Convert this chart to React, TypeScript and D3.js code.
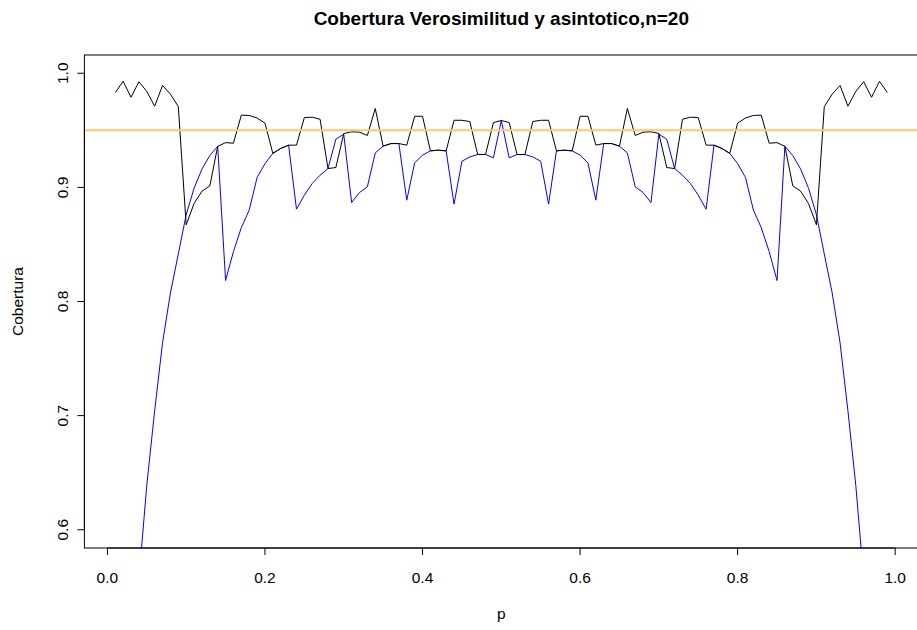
import React from "react";
import * as d3 from "d3";

// Grid of success probabilities p
const pValues = [
  0.01, 0.02, 0.03, 0.04, 0.05, 0.06, 0.07, 0.08, 0.09, 0.1,
  0.11, 0.12, 0.13, 0.14, 0.15, 0.16, 0.17, 0.18, 0.19, 0.2,
  0.21, 0.22, 0.23, 0.24, 0.25, 0.26, 0.27, 0.28, 0.29, 0.3,
  0.31, 0.32, 0.33, 0.34, 0.35, 0.36, 0.37, 0.38, 0.39, 0.4,
  0.41, 0.42, 0.43, 0.44, 0.45, 0.46, 0.47, 0.48, 0.49, 0.5,
  0.51, 0.52, 0.53, 0.54, 0.55, 0.56, 0.57, 0.58, 0.59, 0.6,
  0.61, 0.62, 0.63, 0.64, 0.65, 0.66, 0.67, 0.68, 0.69, 0.7,
  0.71, 0.72, 0.73, 0.74, 0.75, 0.76, 0.77, 0.78, 0.79, 0.8,
  0.81, 0.82, 0.83, 0.84, 0.85, 0.86, 0.87, 0.88, 0.89, 0.9,
  0.91, 0.92, 0.93, 0.94, 0.95, 0.96, 0.97, 0.98, 0.99,
];

// Coverage of the likelihood-ratio interval
const coverageLikelihood = [
  0.9831, 0.9929, 0.979, 0.9926, 0.9841, 0.9711, 0.9893, 0.9817, 0.9708, 0.8672,
  0.8858, 0.8967, 0.9013, 0.936, 0.9392, 0.9387, 0.9633, 0.963, 0.9608, 0.9563,
  0.9298, 0.9341, 0.937, 0.937, 0.9612, 0.9615, 0.9597, 0.9165, 0.9174, 0.9472,
  0.9487, 0.9484, 0.9455, 0.9691, 0.9361, 0.9384, 0.9384, 0.937, 0.9623, 0.9623,
  0.932, 0.9326, 0.932, 0.9588, 0.9588, 0.9577, 0.9288, 0.9288, 0.9568, 0.9586,
  0.9568, 0.9288, 0.9288, 0.9577, 0.9588, 0.9588, 0.932, 0.9326, 0.932, 0.9623,
  0.9623, 0.937, 0.9384, 0.9384, 0.9361, 0.9691, 0.9455, 0.9484, 0.9487, 0.9472,
  0.9174, 0.9165, 0.9597, 0.9615, 0.9612, 0.937, 0.937, 0.9341, 0.9298, 0.9563,
  0.9608, 0.963, 0.9633, 0.9387, 0.9392, 0.936, 0.9013, 0.8967, 0.8858, 0.8672,
  0.9708, 0.9817, 0.9893, 0.9711, 0.9841, 0.9926, 0.979, 0.9929, 0.9831,
];

// Coverage of the asymptotic (Wald) interval
const coverageAsymptotic = [
  0.1821, 0.3318, 0.456, 0.557, 0.6389, 0.7043, 0.7639, 0.8075, 0.8416, 0.8761,
  0.8992, 0.916, 0.9279, 0.936, 0.8184, 0.8438, 0.8647, 0.8801, 0.9086, 0.9208,
  0.9298, 0.9341, 0.937, 0.8809, 0.8932, 0.9034, 0.9107, 0.9165, 0.9422, 0.9466,
  0.8867, 0.8955, 0.9005, 0.9302, 0.9361, 0.9384, 0.9384, 0.8888, 0.9215, 0.9282,
  0.932, 0.9326, 0.932, 0.8853, 0.9229, 0.9267, 0.9288, 0.9288, 0.9259, 0.9586,
  0.9259, 0.9288, 0.9288, 0.9267, 0.9229, 0.8853, 0.932, 0.9326, 0.932, 0.9282,
  0.9215, 0.8888, 0.9384, 0.9384, 0.9361, 0.9302, 0.9005, 0.8955, 0.8867, 0.9466,
  0.9422, 0.9165, 0.9107, 0.9034, 0.8932, 0.8809, 0.937, 0.9341, 0.9298, 0.9208,
  0.9086, 0.8801, 0.8647, 0.8438, 0.8184, 0.936, 0.9279, 0.916, 0.8992, 0.8761,
  0.8416, 0.8075, 0.7639, 0.7043, 0.6389, 0.557, 0.456, 0.3318, 0.1821,
];

const nominalLevel = 0.95;
const xTicks = [0, 0.2, 0.4, 0.6, 0.8, 1.0];
const yTicks = [0.6, 0.7, 0.8, 0.9, 1.0];

const W = 917;
const H = 630;
const FONT = "'Liberation Sans', Arial, Helvetica, sans-serif";
const AXIS_FS = 15.5;
const TITLE_FS = 19;

export default function App() {
  const left = 84.4;
  const right = 918.2;
  const top = 55;
  const bottom = 548;

  const x = d3.scaleLinear().domain([-0.0292, 1.0292]).range([left, right]);
  const y = d3.scaleLinear().domain([0.584, 1.016]).range([bottom, top]);

  const lineGen = d3
    .line<number>()
    .x((_, i) => x(pValues[i]))
    .y((d) => y(d));

  const fmt = d3.format(".1f");

  return (
    <svg
      width={W}
      height={H}
      style={{ position: "absolute", left: 0, top: 0, background: "#fff" }}
      fontFamily={FONT}
    >
      <defs>
        <clipPath id="plotArea">
          <rect x={left} y={top} width={right - left} height={bottom - top} />
        </clipPath>
      </defs>
      <rect x={0} y={0} width={W} height={H} fill="#fff" />

      <g clipPath="url(#plotArea)">
        <path
          d={lineGen(coverageAsymptotic) || ""}
          fill="none"
          stroke="#0000ff"
          strokeWidth={1}
        />
        <path
          d={lineGen(coverageLikelihood) || ""}
          fill="none"
          stroke="#000"
          strokeWidth={1}
        />
        <line
          x1={left}
          x2={right}
          y1={y(nominalLevel)}
          y2={y(nominalLevel)}
          stroke="#ffc966"
          strokeWidth={2}
        />
      </g>

      {/* plot frame */}
      <rect
        x={left}
        y={top}
        width={right - left}
        height={bottom - top}
        fill="none"
        stroke="#000"
        strokeWidth={1}
      />

      {/* x axis */}
      <line x1={x(0)} x2={x(1)} y1={bottom} y2={bottom} stroke="#000" />
      {xTicks.map((t) => (
        <g key={`x${t}`}>
          <line x1={x(t)} x2={x(t)} y1={bottom} y2={bottom + 7} stroke="#000" />
          <text x={x(t)} y={582.5} textAnchor="middle" fontSize={AXIS_FS} fill="#000">
            {fmt(t)}
          </text>
        </g>
      ))}

      {/* y axis */}
      <line x1={left} x2={left} y1={y(0.6)} y2={y(1.0)} stroke="#000" />
      {yTicks.map((t) => (
        <g key={`y${t}`}>
          <line x1={left - 7} x2={left} y1={y(t)} y2={y(t)} stroke="#000" />
          <text
            transform={`translate(67.5,${y(t)}) rotate(-90)`}
            textAnchor="middle"
            fontSize={AXIS_FS}
            fill="#000"
          >
            {fmt(t)}
          </text>
        </g>
      ))}

      {/* labels */}
      <text x={(left + right) / 2} y={618.5} textAnchor="middle" fontSize={AXIS_FS} fill="#000">
        p
      </text>
      <text
        transform={`translate(22.5,${(top + bottom) / 2}) rotate(-90)`}
        textAnchor="middle"
        fontSize={AXIS_FS}
        fill="#000"
      >
        Cobertura
      </text>
      <text
        x={(left + right) / 2}
        y={25}
        textAnchor="middle"
        fontSize={TITLE_FS}
        fontWeight="bold"
        fill="#000"
      >
        Cobertura Verosimilitud y asintotico,n=20
      </text>
    </svg>
  );
}
